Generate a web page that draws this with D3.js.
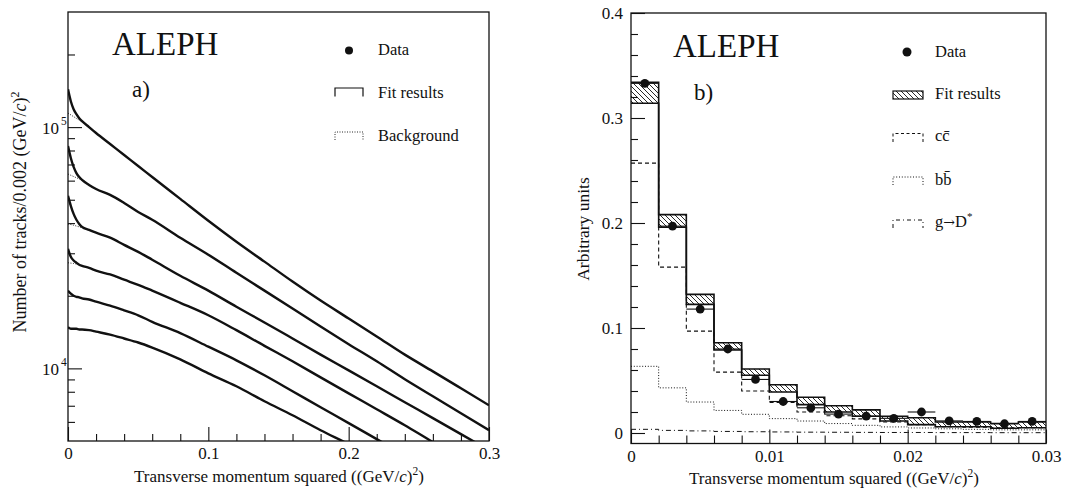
<!DOCTYPE html>
<html><head><meta charset="utf-8">
<script src="https://cdn.jsdelivr.net/npm/d3@7"></script>
<style>
html,body{margin:0;padding:0;background:#fff;}
svg{display:block;font-family:"Liberation Serif","Times New Roman",serif;}
</style></head><body>
<svg id="chart" width="1086" height="488"></svg>
<script>
// ---------- panel a) : transverse momentum squared spectra, six samples ----------
const ptGrid = [0, 0.002, 0.004, 0.006, 0.008, 0.01, 0.015, 0.02, 0.03, 0.04, 0.05, 0.06,
                0.08, 0.1, 0.12, 0.14, 0.16, 0.18, 0.2, 0.22, 0.24, 0.26, 0.28, 0.3];
const spectrum1 = [143500,128000,118700,113200,108900,105900,100000,94500,85100,76600,69000,62100,
                   50400,40900,33500,27700,22900,19100,16100,13560,11400,9720,8270,7030];
const spectrum2 = [83500,74500,68400,64500,62100,60400,57600,55400,52400,48500,44500,41300,
                   34800,29600,24900,21000,17700,14900,12600,10700,9010,7660,6520,5540];
const spectrum3 = [51900,47200,43700,41300,39700,38600,37500,36500,34800,32500,30400,28200,
                   24200,21000,18000,15500,13300,11400,9810,8430,7240,6220,5340,4580];
const spectrum4 = [31300,29000,28000,27400,26900,26600,26100,25400,24500,23300,22200,21000,
                   18700,16600,14400,12400,10700,9180,7880,6770,5810,4950,4250,3650];
const spectrum5 = [21000,20400,20000,19800,19700,19500,19300,18900,18200,17400,16600,15600,
                   14000,12300,10800,9360,8040,6900,5930,5090,4370,3750];
const spectrum6 = [14800,14600,14600,14600,14500,14500,14400,14200,13800,13300,12800,12200,
                   10900,9540,8430,7310,6390,5540,4850,4210];
// background component under the low-pT peak
const bgGrid = [0, 0.004, 0.008, 0.012];
const background1 = [114300,110500,106900,103400];
const background2 = [63900,62400,61000,59500];
const background3 = [39700,39200,38600,38100];
const background4 = [27400,27200,26900,26400];

const axMajor = [0, 0.1, 0.2, 0.3];
const axMajorLabels = ["0", "0.1", "0.2", "0.3"];
const axMinor = [0.02,0.04,0.06,0.08,0.12,0.14,0.16,0.18,0.22,0.24,0.26,0.28];
const ayMajor = [1e4, 1e5];
const ayMajorExp = ["4", "5"];
const ayMinor = [6000,7000,8000,9000,20000,30000,40000,50000,60000,70000,80000,90000,200000];

// ---------- panel b) : D* pT^2 relative to jet, fit components ----------
const binEdges = [0,0.002,0.004,0.006,0.008,0.01,0.012,0.014,0.016,0.018,0.02,0.022,0.024,0.026,0.028,0.03];
const dataB   = [0.333,0.197,0.118,0.080,0.051,0.030,0.024,0.018,0.016,0.014,0.020,0.0115,0.011,0.0088,0.011];
const fitLow  = [0.314,0.196,0.1225,0.079,0.055,0.039,0.027,0.020,0.016,0.0115,0.008,0.006,0.006,0.0045,0.005];
const fitHigh = [0.334,0.208,0.132,0.086,0.061,0.046,0.034,0.026,0.022,0.016,0.0145,0.0105,0.0105,0.009,0.0105];
const ccbar   = [0.257,0.158,0.097,0.058,0.040,0.029,0.020,0.0165,0.0135,0.0105,0.008,0.006,0.0055,0.005,0.005];
const bbbar   = [0.0635,0.043,0.0295,0.0215,0.0178,0.0137,0.0114,0.009,0.0073,0.0058,0.0048,0.004,0.0035,0.003,0.003];
const gluonD  = [0.0035,0.0025,0.002,0.0015,0.0012,0.001,0.0008,0.0007,0.0006,0.0005,0.0005,0.0004,0.0004,0.0003,0.0003];

const bxMajor = [0, 0.01, 0.02, 0.03];
const bxMajorLabels = ["0", "0.01", "0.02", "0.03"];
const bxMinor = [0.002,0.004,0.006,0.008,0.012,0.014,0.016,0.018,0.022,0.024,0.026,0.028];
const byMajor = [0, 0.1, 0.2, 0.3, 0.4];
const byMajorLabels = ["0", "0.1", "0.2", "0.3", "0.4"];
const byMinor = [0.02,0.04,0.06,0.08,0.12,0.14,0.16,0.18,0.22,0.24,0.26,0.28,0.32,0.34,0.36,0.38];

const INK = "#111";
const svg = d3.select("#chart");
const defs = svg.append("defs");

// diagonal hatch for the fit band
const hatch = defs.append("pattern").attr("id", "hatch")
  .attr("patternUnits", "userSpaceOnUse").attr("width", 5).attr("height", 5);
hatch.append("path").attr("d", "M0,0L5,5M-1,4L1,6M4,-1L6,1")
  .attr("stroke", INK).attr("stroke-width", 0.9);

function styleAxis(g) {
  g.select(".domain").remove();
  g.attr("font-family", null).attr("font-size", null);
  g.selectAll("line").attr("stroke", INK).attr("stroke-width", 1.1);
  g.selectAll("text").attr("fill", INK).style("font-size", "17px");
}

function xTicks(scale, y, majors, labels, minors, majLen, minLen) {
  svg.append("g").attr("transform", `translate(0,${y})`)
    .call(d3.axisBottom(scale).tickValues(minors).tickSizeInner(-minLen).tickSizeOuter(0).tickFormat(() => ""))
    .call(styleAxis);
  svg.append("g").attr("transform", `translate(0,${y})`)
    .call(d3.axisBottom(scale).tickValues(majors).tickSizeInner(-majLen).tickSizeOuter(0)
      .tickPadding(6).tickFormat((d, i) => labels[i]))
    .call(styleAxis);
}

// ================= panel a =================
const ax = d3.scaleLinear().domain([0, 0.3]).range([68, 489]);
const ay = d3.scaleLog().domain([5000, 300000]).range([441, 12]);

defs.append("clipPath").attr("id", "clipA").append("rect")
  .attr("x", ax(0)).attr("y", ay(300000)).attr("width", ax(0.3) - ax(0)).attr("height", ay(5000) - ay(300000));

const plotA = svg.append("g").attr("clip-path", "url(#clipA)");
const lineA = d3.line().x(d => ax(d[0])).y(d => ay(d[1])).curve(d3.curveMonotoneX);

[background1, background2, background3, background4].forEach(b => {
  plotA.append("path").attr("d", lineA(bgGrid.map((x, i) => [x, b[i]])))
    .attr("fill", "none").attr("stroke", INK).attr("stroke-width", 0.9)
    .attr("stroke-dasharray", "1,1.5");
});
[spectrum1, spectrum2, spectrum3, spectrum4, spectrum5, spectrum6].forEach(s => {
  plotA.append("path").attr("d", lineA(s.map((v, i) => [ptGrid[i], v])))
    .attr("fill", "none").attr("stroke", INK).attr("stroke-width", 2.4)
    .attr("stroke-linejoin", "round");
});

xTicks(ax, ay(5000), axMajor, axMajorLabels, axMinor, 14, 7);

svg.append("g").attr("transform", `translate(${ax(0)},0)`)
  .call(d3.axisLeft(ay).tickValues(ayMinor).tickSizeInner(-7).tickSizeOuter(0).tickFormat(() => ""))
  .call(styleAxis);
svg.append("g").attr("transform", `translate(${ax(0)},0)`)
  .call(d3.axisLeft(ay).tickValues(ayMajor).tickSizeInner(-14).tickSizeOuter(0).tickFormat(() => ""))
  .call(styleAxis);
ayMajor.forEach((v, i) => {
  const t = svg.append("text").attr("x", 42).attr("y", ay(v) + 7).attr("fill", INK).style("font-size", "17px");
  t.append("tspan").text("10");
  t.append("tspan").attr("dx", 2).attr("dy", -9).style("font-size", "11.5px").text(ayMajorExp[i]);
});

svg.append("rect").attr("x", ax(0)).attr("y", ay(300000))
  .attr("width", ax(0.3) - ax(0)).attr("height", ay(5000) - ay(300000))
  .attr("fill", "none").attr("stroke", INK).attr("stroke-width", 1.3);

// axis titles a
const tA = svg.append("text").attr("x", 279).attr("y", 482).attr("text-anchor", "middle")
  .attr("fill", INK).style("font-size", "17px");
tA.append("tspan").text("Transverse momentum squared ((GeV/");
tA.append("tspan").style("font-style", "italic").text("c");
tA.append("tspan").text(")");
tA.append("tspan").attr("dy", -7).style("font-size", "11.5px").text("2");
tA.append("tspan").attr("dy", 7).text(")");

const yA = svg.append("text").attr("transform", "translate(26,212) rotate(-90)")
  .attr("text-anchor", "middle").attr("fill", INK).style("font-size", "18px");
yA.append("tspan").text("Number of tracks/0.002 (GeV/");
yA.append("tspan").style("font-style", "italic").text("c");
yA.append("tspan").text(")");
yA.append("tspan").attr("dy", -7).style("font-size", "12px").text("2");

svg.append("text").attr("x", 112).attr("y", 55).attr("fill", INK).style("font-size", "33px").text("ALEPH");
svg.append("text").attr("x", 132).attr("y", 97).attr("fill", INK).style("font-size", "23px").text("a)");

// legend a
svg.append("circle").attr("cx", 349).attr("cy", 50.5).attr("r", 4).attr("fill", INK);
svg.append("text").attr("x", 378).attr("y", 54.5).attr("fill", INK).style("font-size", "16.5px").text("Data");
svg.append("path").attr("d", "M335,96.5V88H363V96.5").attr("fill", "none").attr("stroke", INK).attr("stroke-width", 1.2);
svg.append("text").attr("x", 378).attr("y", 98).attr("fill", INK).style("font-size", "16.5px").text("Fit results");
svg.append("path").attr("d", "M335,140V132H363V140").attr("fill", "none").attr("stroke", INK)
  .attr("stroke-width", 0.9).attr("stroke-dasharray", "1,1.5");
svg.append("text").attr("x", 378).attr("y", 141).attr("fill", INK).style("font-size", "16.5px").text("Background");

// ================= panel b =================
const bx = d3.scaleLinear().domain([0, 0.03]).range([631, 1046]);
const by = d3.scaleLinear().domain([-0.01, 0.4]).range([443.5, 13]);

const stepPath = vals => d3.line().curve(d3.curveStepAfter).x(d => bx(d[0])).y(d => by(d[1]))(
  vals.map((v, i) => [binEdges[i], v]).concat([[binEdges[vals.length], vals[vals.length - 1]]]));

const plotB = svg.append("g");
// fit band
fitLow.forEach((lo, i) => {
  plotB.append("rect").attr("x", bx(binEdges[i])).attr("width", bx(binEdges[i + 1]) - bx(binEdges[i]))
    .attr("y", by(fitHigh[i])).attr("height", by(lo) - by(fitHigh[i]))
    .attr("fill", "url(#hatch)");
});
plotB.append("path").attr("d", stepPath(fitHigh)).attr("fill", "none").attr("stroke", INK).attr("stroke-width", 1.6);
plotB.append("path").attr("d", stepPath(fitLow)).attr("fill", "none").attr("stroke", INK).attr("stroke-width", 1.6);
// components
plotB.append("path").attr("d", stepPath(ccbar)).attr("fill", "none").attr("stroke", INK)
  .attr("stroke-width", 1.1).attr("stroke-dasharray", "4,3");
plotB.append("path").attr("d", stepPath(bbbar)).attr("fill", "none").attr("stroke", INK)
  .attr("stroke-width", 1).attr("stroke-dasharray", "1,1.8");
plotB.append("path").attr("d", stepPath(gluonD)).attr("fill", "none").attr("stroke", INK)
  .attr("stroke-width", 1).attr("stroke-dasharray", "5,3,1,3");
// data points with bin-width bars
dataB.forEach((v, i) => {
  const x0 = binEdges[i], x1 = binEdges[i + 1];
  plotB.append("line").attr("x1", bx(x0)).attr("x2", bx(x1)).attr("y1", by(v)).attr("y2", by(v))
    .attr("stroke", INK).attr("stroke-width", 1.1);
  plotB.append("circle").attr("cx", bx((x0 + x1) / 2)).attr("cy", by(v)).attr("r", 4.4).attr("fill", INK);
});

xTicks(bx, by(-0.01), bxMajor, bxMajorLabels, bxMinor, 14, 8);
svg.append("g").attr("transform", `translate(${bx(0)},0)`)
  .call(d3.axisLeft(by).tickValues(byMinor).tickSizeInner(-7).tickSizeOuter(0).tickFormat(() => ""))
  .call(styleAxis);
svg.append("g").attr("transform", `translate(${bx(0)},0)`)
  .call(d3.axisLeft(by).tickValues(byMajor).tickSizeInner(-14).tickSizeOuter(0).tickPadding(8)
    .tickFormat((d, i) => byMajorLabels[i]))
  .call(styleAxis);

svg.append("rect").attr("x", bx(0)).attr("y", by(0.4))
  .attr("width", bx(0.03) - bx(0)).attr("height", by(-0.01) - by(0.4))
  .attr("fill", "none").attr("stroke", INK).attr("stroke-width", 1.3);

const tB = svg.append("text").attr("x", 834).attr("y", 484).attr("text-anchor", "middle")
  .attr("fill", INK).style("font-size", "17px");
tB.append("tspan").text("Transverse momentum squared ((GeV/");
tB.append("tspan").style("font-style", "italic").text("c");
tB.append("tspan").text(")");
tB.append("tspan").attr("dy", -7).style("font-size", "11.5px").text("2");
tB.append("tspan").attr("dy", 7).text(")");

svg.append("text").attr("transform", "translate(589,229) rotate(-90)")
  .attr("text-anchor", "middle").attr("fill", INK).style("font-size", "17.5px").text("Arbitrary units");

svg.append("text").attr("x", 673).attr("y", 57).attr("fill", INK).style("font-size", "33px").text("ALEPH");
svg.append("text").attr("x", 694).attr("y", 100).attr("fill", INK).style("font-size", "23px").text("b)");

// legend b
svg.append("circle").attr("cx", 907).attr("cy", 52).attr("r", 4.5).attr("fill", INK);
svg.append("text").attr("x", 935).attr("y", 57).attr("fill", INK).style("font-size", "16.5px").text("Data");
svg.append("rect").attr("x", 893).attr("y", 91).attr("width", 30).attr("height", 8)
  .attr("fill", "url(#hatch)").attr("stroke", INK).attr("stroke-width", 1.2);
svg.append("text").attr("x", 935).attr("y", 99).attr("fill", INK).style("font-size", "16.5px").text("Fit results");
svg.append("path").attr("d", "M893,142V133.5H923V142").attr("fill", "none").attr("stroke", INK)
  .attr("stroke-width", 1).attr("stroke-dasharray", "3,2.5");
svg.append("text").attr("x", 935).attr("y", 141).attr("fill", INK).style("font-size", "16.5px").text("cc\u0304");
svg.append("path").attr("d", "M893,185V177H923V185").attr("fill", "none").attr("stroke", INK)
  .attr("stroke-width", 1).attr("stroke-dasharray", "1,1.8");
svg.append("text").attr("x", 935).attr("y", 184.5).attr("fill", INK).style("font-size", "16.5px").text("bb\u0304");
svg.append("path").attr("d", "M893,228V220H923V228").attr("fill", "none").attr("stroke", INK)
  .attr("stroke-width", 1).attr("stroke-dasharray", "4,3,1,3");
const gl = svg.append("text").attr("x", 935).attr("y", 227).attr("fill", INK).style("font-size", "16.5px");
gl.append("tspan").text("g");
gl.append("tspan").style("font-family", "'DejaVu Serif'").style("font-size", "14px").text("\u2192");
gl.append("tspan").text("D");
gl.append("tspan").attr("dy", -7).style("font-size", "11px").text("*");
</script>
</body></html>
